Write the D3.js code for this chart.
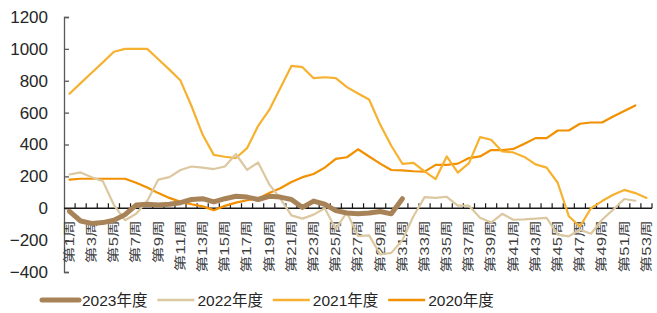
<!DOCTYPE html>
<html>
<head>
<meta charset="utf-8">
<script src="https://cdn.jsdelivr.net/npm/d3@7"></script>
<style>
    html, body { margin: 0; padding: 0; background: #fff; }
    #chart { width: 657px; height: 313px; }
</style>
</head>
<body>
<div id="chart"></div>
<script>
// 周次
const WEEKS = ['第1周', '第2周', '第3周', '第4周', '第5周', '第6周', '第7周', '第8周', '第9周', '第10周',
    '第11周', '第12周', '第13周', '第14周', '第15周', '第16周', '第17周', '第18周', '第19周', '第20周',
    '第21周', '第22周', '第23周', '第24周', '第25周', '第26周', '第27周', '第28周', '第29周', '第30周',
    '第31周', '第32周', '第33周', '第34周', '第35周', '第36周', '第37周', '第38周', '第39周', '第40周',
    '第41周', '第42周', '第43周', '第44周', '第45周', '第46周', '第47周', '第48周', '第49周', '第50周',
    '第51周', '第52周', '第53周'];

const Y_TICKS = [-400, -200, 0, 200, 400, 600, 800, 1000, 1200];

const SERIES_NAMES = ['2023年度', '2022年度', '2021年度', '2020年度'];

const VALUES_2023 = [-20, -80, -95, -90, -75, -40, 20, 25, 20, 25,
    35, 55, 60, 40, 60, 75, 70, 55, 75, 70,
    55, 5, 45, 25, -15, -30, -35, -30, -20, -35,
    60];

const VALUES_2022 = [212, 225, 195, 170, 20, -75, -35, 45, 180, 195,
    240, 262, 255, 246, 262, 340, 241, 287, 150, 60,
    -45, -65, -40, 0, -130, -25, -175, -170, -290, -280,
    -200, -50, 70, 65, 72, 16, 16, -60, -90, -35,
    -72, -70, -65, -61, -166, -176, -135, -160, -72, -9,
    58, 47];

const VALUES_2021 = [718, 785, 850, 915, 982, 1000, 1000, 1000, 935, 870,
    801, 640, 461, 335, 323, 315, 377, 517, 617, 755,
    893, 885, 816, 822, 816, 760, 720, 682, 525, 392,
    279, 285, 231, 183, 325, 224, 283, 446, 430, 356,
    350, 322, 275, 255, 160, -50, -115, 0, 45, 85,
    115, 95, 65];

const VALUES_2020 = [180, 185, 185, 185, 185, 185, 160, 130, 95, 65,
    40, 25, 12, -12, 15, 35, 50, 62, 95, 125,
    165, 195, 215, 255, 310, 320, 370, 325, 280, 240,
    238, 232, 230, 272, 272, 280, 315, 325, 365, 365,
    372, 405, 440, 440, 488, 488, 530, 538, 538, 576,
    610, 645];

const COLORS = ['#a98358', '#dcc8a0', '#f7b130', '#f39000'];
const WIDTHS = [5, 2.2, 2.2, 2.2];

window.addEventListener('load', function() {
    drawChart(document.getElementById('chart'));
});

function drawChart(container) {
    const width = 657;
    const height = 313;
    const margin = { top: 17, right: 5, bottom: 41, left: 64 };

    const svg = d3.select(container)
        .append('svg')
        .attr('width', width)
        .attr('height', height);

    const x = d3.scaleBand()
        .domain(WEEKS)
        .range([margin.left, width - margin.right]);

    const y = d3.scaleLinear()
        .domain([Y_TICKS[0], Y_TICKS[Y_TICKS.length - 1]])
        .range([height - margin.bottom, margin.top]);

    // y 轴
    const yAxis = svg.append('g')
        .attr('transform', 'translate(' + margin.left + ',0)')
        .call(d3.axisLeft(y).tickValues(Y_TICKS).tickFormat(d3.format('d')).tickSize(-5).tickPadding(16));
    yAxis.select('.domain').attr('stroke', '#595959').attr('stroke-width', 1.3);
    yAxis.selectAll('.tick line').attr('stroke', '#595959').attr('stroke-width', 1.3);
    yAxis.selectAll('.tick text')
        .attr('font-family', '"Liberation Sans", Arial, sans-serif')
        .attr('font-size', '17px')
        .attr('fill', '#262626');

    // x 轴（0 线）
    const y0 = y(0);
    svg.append('line')
        .attr('x1', margin.left)
        .attr('x2', x.range()[1])
        .attr('y1', y0)
        .attr('y2', y0)
        .attr('stroke', '#1a1a1a')
        .attr('stroke-width', 1.3);

    svg.selectAll('xTicks')
        .data(WEEKS)
        .enter()
        .append('line')
        .attr('x1', d => x(d) + x.bandwidth())
        .attr('x2', d => x(d) + x.bandwidth())
        .attr('y1', y0)
        .attr('y2', y0 - 5)
        .attr('stroke', '#1a1a1a')
        .attr('stroke-width', 1.2);

    // 周次标签，每隔一周
    svg.selectAll('xLabels')
        .data(WEEKS.filter((d, i) => i % 2 === 0))
        .enter()
        .append('text')
        .attr('transform', d => 'translate(' + (x(d) + x.bandwidth() / 2) + ',' + (y0 + 12) + ') rotate(-90) scale(1.4,1)')
        .attr('dy', '0.36em')
        .attr('text-anchor', 'end')
        .attr('font-family', '"Liberation Sans", "Noto Sans CJK SC", sans-serif')
        .attr('font-size', '12px')
        .attr('fill', '#404040')
        .text(d => d);

    // 折线
    const allSeries = [VALUES_2023, VALUES_2022, VALUES_2021, VALUES_2020];
    const line = d3.line()
        .defined(d => d != null)
        .x((d, i) => x(WEEKS[i]) + x.bandwidth() / 2)
        .y(d => y(d));

    // 先画旧年份，2023 在最上层
    for (var k = allSeries.length - 1; k >= 0; --k) {
        svg.append('path')
            .datum(allSeries[k])
            .attr('d', line)
            .attr('fill', 'none')
            .attr('stroke', COLORS[k])
            .attr('stroke-width', WIDTHS[k])
            .attr('stroke-linejoin', 'round')
            .attr('stroke-linecap', 'round');
    }

    // 图例
    const legend = svg.selectAll('legendItems')
        .data(SERIES_NAMES)
        .enter()
        .append('g')
        .attr('transform', (d, i) => 'translate(' + (42 + i * 115.4) + ',300)');
    legend.append('line')
        .attr('x1', 0)
        .attr('x2', 37)
        .attr('stroke', (d, i) => COLORS[i])
        .attr('stroke-width', (d, i) => i === 0 ? 5 : 2.5)
        .attr('stroke-linecap', (d, i) => i === 0 ? 'round' : 'butt');
    legend.append('text')
        .attr('x', 40)
        .attr('dy', '0.36em')
        .attr('font-family', '"Liberation Sans", "Noto Sans CJK SC", sans-serif')
        .attr('font-size', '15.5px')
        .attr('fill', '#262626')
        .text(d => d);
}
</script>
</body>
</html>
